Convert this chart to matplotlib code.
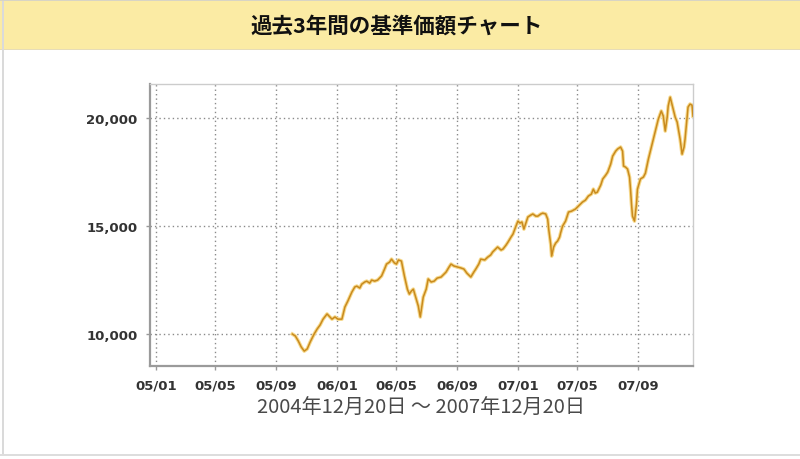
import matplotlib
matplotlib.use("Agg")
import matplotlib.pyplot as plt
import matplotlib.dates as mdates
from matplotlib.patches import Rectangle
import datetime as dt

# ---- data ----
base_date = "2005-01-01"
# days elapsed since base_date for each NAV reading
day_offsets = [
    275, 281, 287, 293, 299, 305, 311, 319, 325, 331, 337, 345, 351, 355, 361, 367,
    375, 381, 387, 395, 401, 405, 411, 415, 421, 425, 431, 435, 441, 447, 455, 461,
    465, 471, 475, 481, 485, 489, 495, 501, 507, 511, 515, 519, 525, 529, 533, 539,
    545, 549, 555, 561, 567, 575, 581, 585, 591, 595, 601, 609, 615, 621, 627, 631,
    635, 641, 645, 651, 655, 663, 669, 675, 679, 685, 689, 696, 700, 706, 710, 716,
    720, 726, 730, 734, 738, 742, 746, 750, 756, 760, 766, 770, 776, 780, 786, 790,
    792, 796, 798, 802, 806, 810, 814, 816, 820, 826, 832, 838, 846, 852, 860, 866,
    872, 878, 882, 886, 890, 897, 901, 907, 911, 917, 921, 927, 931, 937, 941, 943,
    947, 951, 955, 957, 959, 961, 965, 969, 971, 977, 983, 987, 993, 997, 1003, 1007,
    1013, 1019, 1023, 1027, 1031, 1033, 1037, 1043, 1047, 1051, 1057, 1061, 1065, 1067,
    1071, 1073, 1077, 1081, 1083,
]
nav = [
    10000, 9910, 9680, 9400, 9210, 9310, 9630, 10000, 10230, 10420, 10690, 10930, 10790, 10690, 10790, 10690,
    10690, 11250, 11530, 11940, 12180, 12220, 12130, 12310, 12410, 12450, 12360, 12500, 12450, 12500, 12690, 13010,
    13240, 13330, 13470, 13290, 13240, 13430, 13380, 12690, 12080, 11850, 11990, 12080, 11620, 11300, 10790, 11710,
    12080, 12550, 12410, 12450, 12590, 12640, 12780, 12870, 13100, 13240, 13150, 13100, 13060, 13010, 12820, 12730,
    12640, 12870, 13010, 13240, 13470, 13430, 13560, 13660, 13800, 13940, 14030, 13890, 13940, 14120, 14260, 14490,
    14630, 15000, 15230, 15140, 15190, 14860, 15140, 15420, 15510, 15560, 15460, 15460, 15560, 15600, 15560, 15320,
    14860, 14170, 13610, 14030, 14210, 14310, 14490, 14680, 15000, 15230, 15650, 15690, 15790, 15930, 16110, 16200,
    16390, 16480, 16710, 16530, 16570, 16900, 17180, 17360, 17500, 17870, 18240, 18470, 18570, 18660, 18470, 17780,
    17730, 17640, 17270, 16710, 16020, 15460, 15230, 16020, 16710, 17180, 17270, 17450, 18100, 18470, 19030, 19400,
    19950, 20330, 20100, 19400, 20050, 20560, 20970, 20420, 20050, 19820, 19030, 18330, 18660, 19030,
    20050, 20510, 20650, 20600, 20090,
]
xtick_dates = ["2005-01-01", "2005-05-01", "2005-09-01", "2006-01-01", "2006-05-01",
               "2006-09-01", "2007-01-01", "2007-05-01", "2007-09-01"]
yticks = [10000, 15000, 20000]
title = "過去3年間の基準価額チャート"
period = "2004年12月20日 ～ 2007年12月20日"

plt.rcParams['font.family'] = ['DejaVu Sans', 'Noto Sans CJK JP']

b = dt.datetime.strptime(base_date, "%Y-%m-%d")
x = [b + dt.timedelta(days=d) for d in day_offsets]
xt = [dt.datetime.strptime(d, "%Y-%m-%d") for d in xtick_dates]

fig = plt.figure(figsize=(8, 4.6), dpi=100)
fig.patch.set_facecolor("white")

# title band
fig.patches.append(Rectangle((0, 1 - 50 / 460), 1, 48 / 460, transform=fig.transFigure,
                             facecolor="#FBEBA4", edgecolor="none", zorder=0))
fig.patches.append(Rectangle((0, 1 - 51 / 460), 1, 1.5 / 460, transform=fig.transFigure,
                             facecolor="#E6DCB8", edgecolor="none", zorder=0))
fig.patches.append(Rectangle((0, 1 - 2 / 460), 1, 2 / 460, transform=fig.transFigure,
                             facecolor="#D8D4C4", edgecolor="none", zorder=0))
# outer frame lines
fig.patches.append(Rectangle((2 / 800, 4 / 460), 1.5 / 800, 1 - 6 / 460, transform=fig.transFigure,
                             facecolor="#DADADA", edgecolor="none", zorder=0))
fig.patches.append(Rectangle((0, 3 / 460), 1, 2 / 460, transform=fig.transFigure,
                             facecolor="#DDDDDD", edgecolor="none", zorder=0))

fig.text(0.496, 1 - 26 / 460, title, ha="center", va="center", fontsize=15.5,
         fontweight="bold", family=["Noto Sans CJK JP"], color="#111111")

ax = fig.add_axes([150 / 800, 1 - 367 / 460, 543 / 800, 282 / 460])
ax.plot(x, nav, color="#F6D98C", lw=2.6, solid_joinstyle="round", zorder=2)
ax.plot(x, nav, color="#C98A1E", lw=1.1, solid_joinstyle="round", zorder=3)

ax.set_xlim(dt.datetime(2004, 12, 20), dt.datetime(2007, 12, 20))
ax.set_ylim(8520, 21580)
ax.set_xticks(xt)
ax.xaxis.set_major_formatter(mdates.DateFormatter("%y/%m"))
ax.set_yticks(yticks)
ax.set_yticklabels([f"{v:,}" for v in yticks])

ax.grid(True, color="#8A8A8A", linestyle=(0, (1, 2.2)), lw=1.0)
ax.tick_params(axis="both", length=3, width=1, color="#999999",
               labelsize=9.5, labelcolor="#333333", pad=6)
for lab in ax.get_xticklabels() + ax.get_yticklabels():
    lab.set_fontweight("semibold")

for s in ["left", "bottom"]:
    ax.spines[s].set_color("#9A9A9A")
    ax.spines[s].set_linewidth(1.6)
for s in ["top", "right"]:
    ax.spines[s].set_color("#CCCCCC")
    ax.spines[s].set_linewidth(1.0)

fig.text(421 / 800, 1 - 408 / 460, period, ha="center", va="center", fontsize=14.5,
         family=["Noto Sans CJK JP", "DejaVu Sans"], color="#4A4A4A")

fig.savefig("out.png", dpi=100)
